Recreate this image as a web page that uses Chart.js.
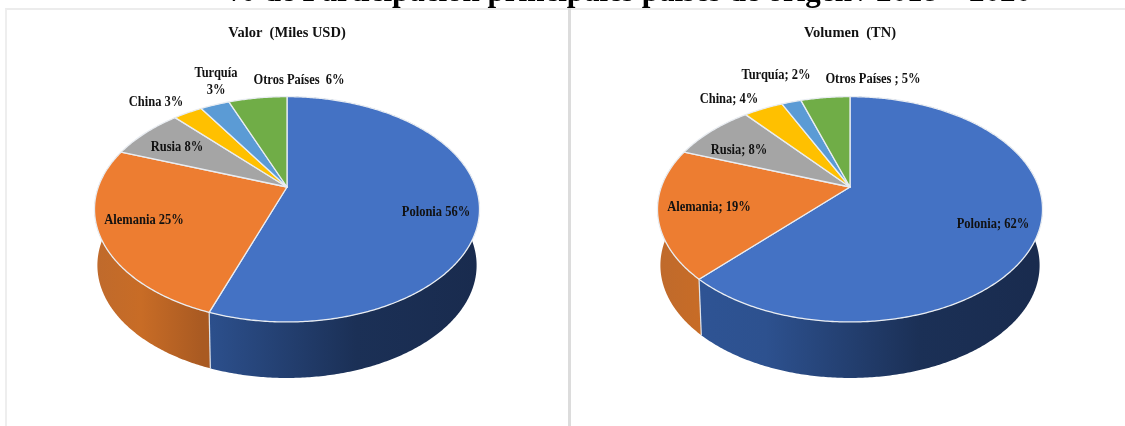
<!DOCTYPE html>
<html>
<head>
<meta charset="utf-8">
<script src="https://cdn.jsdelivr.net/npm/chart.js@4/dist/chart.umd.js"></script>
<style>
  html, body { margin: 0; background: #fff; }
  #page { position: relative; width: 1125px; height: 426px; overflow: hidden; }
  #titulo { position: absolute; left: 0; width: 1256px; top: -27px; text-align: center;
    font: bold 31px "Liberation Serif"; color: #000; white-space: nowrap; filter: blur(0.4px); }
  .panel { position: absolute; top: 8px; height: 430px; box-sizing: border-box; border-top: 2px solid #ececec; }
  #panel_valor { left: 5px; width: 552px; border-left: 2px solid #eeeeee; }
  #panel_volumen { left: 557px; width: 580px; }
  #separador { position: absolute; left: 568px; top: 8px; width: 3px; height: 418px; background: #dcdcdc; }
  canvas { position: absolute; top: 0; filter: blur(0.35px); }
  #canvas_valor { left: 0; }
  #canvas_volumen { left: 575px; }
</style>
</head>
<body>
<div id="page">
  <div id="titulo">% de Participación principales países de origen / 2018 – 2020</div>
  <div class="panel" id="panel_valor"></div>
  <div class="panel" id="panel_volumen"></div>
  <div id="separador"></div>
  <canvas id="canvas_valor" width="574" height="426" style="width:574px;height:426px"></canvas>
  <canvas id="canvas_volumen" width="550" height="426" style="width:550px;height:426px"></canvas>
</div>
<script>
const paises = ["Polonia", "Alemania", "Rusia", "China", "Turquía", "Otros Países"];
// estimados del dibujo, redondean a los % de las etiquetas
const valor_pct = [56, 25.4, 7.6, 3, 3, 6];
const volumen_pct = [62, 18.6, 8.4, 4, 2, 5];

const colores = ["#4472C4", "#ED7D31", "#A5A5A5", "#FFC000", "#5B9BD5", "#70AD47"];

// texto de cada etiqueta, ya partido en lineas
const etiquetas_valor = [["Polonia 56%"], ["Alemania 25%"], ["Rusia 8%"], ["China 3%"], ["Turquía", "3%"], ["Otros Países  6%"]];
const etiquetas_volumen = [["Polonia; 62%"], ["Alemania; 19%"], ["Rusia; 8%"], ["China; 4%"], ["Turquía; 2%"], ["Otros Países ; 5%"]];

// centro de cada etiqueta relativo al vertice del pie
const pos_valor = [[149, 25], [-143, 33], [-110, -40], [-131, -85], [-71, -105.5], [12, -107]];
const pos_volumen = [[143, 37], [-141, 20], [-111, -37], [-121, -88], [-74, -112], [23, -108]];

/* perspectiva del pie: se calcula con los angulos que deja Chart.js en cada arco */
const RADIO = 145;
const K_X = 190 / RADIO, K_Y = 109 / RADIO, FUGA = 0.198, ALTO = 56, ENCOGE = 0.985;

function proyectar(arc, ang, abajo) {
  const u = Math.cos(ang), v = -Math.sin(ang);
  const d = 1 + FUGA * v;
  const r = arc.outerRadius;
  const x = K_X * r * u / d, y = -K_Y * r * v / d;
  if (abajo) return [arc.x + x * ENCOGE, arc.y + y + ALTO];
  return [arc.x + x, arc.y + y];
}

function borde(arc, abajo) {
  const pts = [];
  const n = Math.max(2, Math.ceil((arc.endAngle - arc.startAngle) / 0.01));
  for (let i = 0; i <= n; i++) {
    pts.push(proyectar(arc, arc.startAngle + (arc.endAngle - arc.startAngle) * i / n, abajo));
  }
  return pts;
}

function gradPared(ctx, arc, i) {
  const g = ctx.createLinearGradient(arc.x - K_X * arc.outerRadius * 1.02, 0, arc.x + K_X * arc.outerRadius * 1.02, 0);
  if (i === 0) {
    g.addColorStop(0, "#2f5597");
    g.addColorStop(0.28, "#2d518f");
    g.addColorStop(0.68, "#1b3056");
    g.addColorStop(1, "#192b4e");
  } else {
    g.addColorStop(0, "#bf6a2c");
    g.addColorStop(0.12, "#c86c26");
    g.addColorStop(0.28, "#a95a22");
    g.addColorStop(1, "#a95a22");
  }
  return g;
}

const pie3d = {
  id: "pie3d",
  beforeDatasetDraw(chart) {
    const ctx = chart.ctx;
    const arcs = chart.getDatasetMeta(0).data;
    ctx.save();
    // paredes (solo las dos primeras quedan al frente)
    [1, 0].forEach((i) => {
      const arc = arcs[i];
      const arriba = borde(arc, false), abajo = borde(arc, true).reverse();
      ctx.beginPath();
      arriba.concat(abajo).forEach((p, k) => (k ? ctx.lineTo(p[0], p[1]) : ctx.moveTo(p[0], p[1])));
      ctx.closePath();
      ctx.fillStyle = gradPared(ctx, arc, i);
      ctx.fill();
    });
    // linea vertical entre Polonia y Alemania
    const a = proyectar(arcs[0], arcs[0].endAngle, false), b = proyectar(arcs[0], arcs[0].endAngle, true);
    ctx.strokeStyle = "#dfe3ea";
    ctx.lineWidth = 1.2;
    ctx.beginPath();
    ctx.moveTo(a[0], a[1]);
    ctx.lineTo(b[0], b[1]);
    ctx.stroke();
    // cara superior
    arcs.forEach((arc, i) => {
      ctx.beginPath();
      ctx.moveTo(arc.x, arc.y);
      borde(arc, false).forEach((p) => ctx.lineTo(p[0], p[1]));
      ctx.closePath();
      ctx.fillStyle = colores[i];
      ctx.fill();
      ctx.strokeStyle = "#e9edf2";
      ctx.lineWidth = 1.3;
      ctx.lineJoin = "round";
      ctx.stroke();
    });
    ctx.restore();
    return false;
  },
};

function etiquetasPlugin(textos, posiciones) {
  return {
    id: "etiquetas",
    afterDatasetsDraw(chart) {
      const ctx = chart.ctx;
      const arc = chart.getDatasetMeta(0).data[0];
      ctx.save();
      ctx.font = 'bold 12.5px "Liberation Serif"';
      ctx.fillStyle = "#111";
      ctx.textAlign = "center";
      ctx.textBaseline = "middle";
      textos.forEach((lineas, i) => {
        lineas.forEach((t, k) => {
          const y = arc.y + posiciones[i][1] + (k - (lineas.length - 1) / 2) * 17;
          // letra algo mas alta que ancha, como en el original
          ctx.save();
          ctx.translate(arc.x + posiciones[i][0], y);
          ctx.scale(1, 1.15);
          ctx.fillText(t, 0, 0);
          ctx.restore();
        });
      });
      ctx.restore();
    },
  };
}

function crearPie(id, titulo, datos, textos, posiciones) {
  return new Chart(document.getElementById(id), {
    type: "pie",
    data: { labels: paises, datasets: [{ data: datos, backgroundColor: colores }] },
    options: {
      responsive: false,
      animation: false,
      layout: { padding: { top: 0, bottom: 94 } },
      plugins: {
        legend: { display: false },
        tooltip: { enabled: false },
        title: {
          display: true,
          text: titulo,
          color: "#111",
          font: { family: "Liberation Serif", size: 14.5, weight: "bold" },
          padding: { top: 24.6, bottom: 0 },
        },
      },
    },
    plugins: [pie3d, etiquetasPlugin(textos, posiciones)],
  });
}

const chart_valor = crearPie("canvas_valor", "Valor  (Miles USD)", valor_pct, etiquetas_valor, pos_valor);
const chart_volumen = crearPie("canvas_volumen", "Volumen  (TN)", volumen_pct, etiquetas_volumen, pos_volumen);
</script>
</body>
</html>
